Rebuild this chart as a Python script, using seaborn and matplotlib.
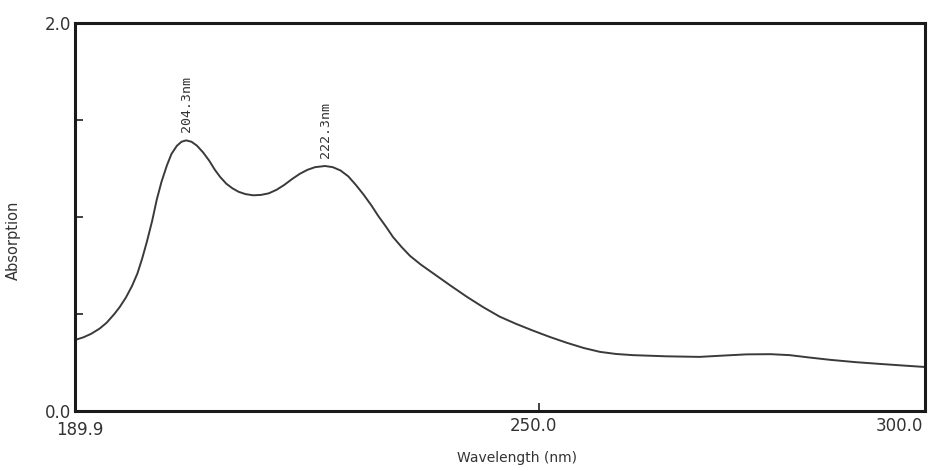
import matplotlib
matplotlib.use("Agg")
import matplotlib.pyplot as plt
import matplotlib.transforms as mtransforms
import seaborn as sns
import pandas as pd

# UV absorption spectrum
wavelength = [189.9, 191.0, 192.0, 193.1, 194.0, 195.0, 195.7, 196.5, 197.3, 198.0,
              198.6, 199.2, 199.9, 200.5, 201.1, 201.8, 202.4, 203.1, 203.7, 204.3,
              205.0, 205.7, 206.5, 207.3, 208.0, 208.7, 209.5, 210.3, 211.1, 212.0,
              213.0, 214.0, 215.0, 216.0, 217.0, 218.0, 219.0, 220.0, 221.0, 222.3,
              223.3, 224.3, 225.3, 226.3, 227.3, 228.3, 229.2, 230.2, 231.1, 232.2,
              233.3, 234.7, 236.3, 238.5, 240.7, 242.8, 244.9, 247.0, 249.2, 251.4,
              253.6, 255.8, 257.9, 260.0, 262.2, 266.5, 270.8, 274.0, 276.9, 280.0,
              282.5, 285.0, 287.7, 291.0, 294.1, 297.0, 300.0]
absorption = [0.366, 0.380, 0.398, 0.425, 0.455, 0.500, 0.536, 0.585, 0.645, 0.710,
              0.785, 0.870, 0.980, 1.090, 1.180, 1.265, 1.325, 1.367, 1.388, 1.395,
              1.388, 1.368, 1.333, 1.290, 1.245, 1.207, 1.172, 1.148, 1.130, 1.118,
              1.112, 1.114, 1.122, 1.140, 1.165, 1.195, 1.222, 1.243, 1.257, 1.263,
              1.257, 1.240, 1.210, 1.165, 1.115, 1.060, 1.005, 0.950, 0.897, 0.846,
              0.800, 0.755, 0.710, 0.648, 0.588, 0.535, 0.487, 0.450, 0.415, 0.382,
              0.352, 0.325, 0.305, 0.294, 0.288, 0.282, 0.279, 0.286, 0.292, 0.293,
              0.288, 0.276, 0.264, 0.252, 0.243, 0.235, 0.227]

peak_nm = [204.3, 222.3]
peak_abs = [1.395, 1.263]
peak_labels = ["204.3nm", "222.3nm"]

x_ticks = [189.9, 250.0, 300.0]
x_ticklabels = ["189.9", "250.0", "300.0"]
y_ticks = [0.0, 0.5, 1.0, 1.5, 2.0]
y_ticklabels = ["0.0", "", "", "", "2.0"]

df = pd.DataFrame({"Wavelength (nm)": wavelength, "Absorption": absorption})

sns.set_theme(style="white")
plt.rcParams["font.family"] = ["DejaVu Sans"]
plt.rcParams["lines.solid_joinstyle"] = "round"

fig = plt.figure(figsize=(9.37, 4.70), dpi=100)
ax = fig.add_axes([0.080, 0.1255, 0.907, 0.8255])

sns.lineplot(data=df, x="Wavelength (nm)", y="Absorption", ax=ax,
             color="#3a3a3a", linewidth=1.4, sort=False)

ax.set_xlim(189.9, 300.0)
ax.set_ylim(0.0, 2.0)

ax.set_xticks(x_ticks)
ax.set_xticklabels(x_ticklabels, fontsize=12, color="#333333")
ax.set_yticks(y_ticks)
ax.set_yticklabels(y_ticklabels, fontsize=12, color="#333333")
ax.tick_params(axis="both", direction="in", length=6, width=1.2, color="#222222",
               bottom=True, left=True, pad=3)
ax.tick_params(axis="x", pad=4)

# shift end labels on the x axis
xlabels = ax.get_xticklabels()
xlabels[0].set_transform(xlabels[0].get_transform() +
                         mtransforms.ScaledTranslation(5 / 100, -4 / 100, fig.dpi_scale_trans))
xlabels[1].set_transform(xlabels[1].get_transform() +
                         mtransforms.ScaledTranslation(-5 / 100, 0, fig.dpi_scale_trans))
xlabels[-1].set_transform(xlabels[-1].get_transform() +
                          mtransforms.ScaledTranslation(-25 / 100, 0, fig.dpi_scale_trans))

for side in ["left", "right", "top", "bottom"]:
    ax.spines[side].set_visible(True)
    ax.spines[side].set_color("#1a1a1a")
    ax.spines[side].set_linewidth(2.2)

ax.set_xlabel("Wavelength (nm)", fontsize=10, color="#333333", va="center")
ax.xaxis.set_label_coords(0.52, -0.122)
ax.set_ylabel("Absorption", fontsize=10.5, color="#333333")
ax.yaxis.set_label_coords(-0.064, 0.44)

for nm, a, lab in zip(peak_nm, peak_abs, peak_labels):
    ax.annotate(lab, xy=(nm, a), xytext=(0, 6), textcoords="offset points",
                rotation=90, ha="center", va="bottom", fontsize=9.5,
                family="DejaVu Sans Mono", color="#333333")

fig.savefig("out.png", dpi=100, facecolor="white")
